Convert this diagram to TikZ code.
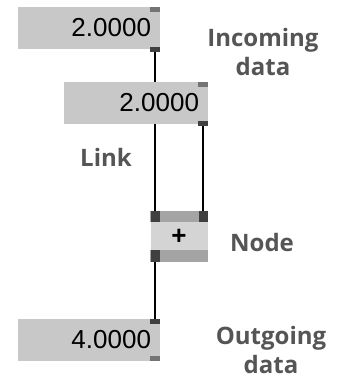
\documentclass[tikz,border=0pt]{standalone}
\usepackage{fontspec}
\setmainfont{Liberation Sans}
\newfontfamily\lblfont{Open Sans}
\usetikzlibrary{backgrounds}
\definecolor{boxgray}{HTML}{C8C8C8}
\definecolor{bandgray}{HTML}{A4A4A4}
\definecolor{pluslight}{HTML}{D4D4D4}
\definecolor{portgray}{HTML}{747474}
\definecolor{portdark}{HTML}{404040}
\definecolor{lblgray}{HTML}{555555}
\tikzset{
  numbox/.style={fill=boxgray, minimum height=42pt, inner xsep=9pt, inner ysep=0pt,
    align=right, font=\fontsize{26}{30}\selectfont},
  port/.style={fill=portgray, minimum width=10pt, minimum height=5pt, inner sep=0pt},
  portc/.style={port, fill=portdark},
  plusport/.style={fill=portdark, minimum width=9pt, minimum height=11pt, inner sep=0pt},
  link/.style={line width=2pt},
  lbl/.style={text=lblgray, align=center, font=\lblfont\bfseries\fontsize{24}{29}\selectfont}
}
\begin{document}
\begin{tikzpicture}[x=1pt, y=-1pt]
  \useasboundingbox (0,0) rectangle (340,378);

  % number boxes
  \node[numbox, minimum width=142pt, text width=124pt] (num1) at (89,28) {2.0000};
  \node[port, anchor=north east] (num1in) at (num1.north east) {};
  \node[portc, anchor=south east, yshift=-3pt] (num1out) at (num1.south east) {};

  \node[numbox, minimum width=144pt, text width=126pt] (num2) at (136,103) {2.0000};
  \node[port, anchor=north east] (num2in) at (num2.north east) {};
  \node[portc, anchor=south east, yshift=-2pt] (num2out) at (num2.south east) {};

  \node[numbox, minimum width=142pt, text width=124pt] (num3) at (89,340) {4.0000};
  \node[portc, anchor=north east] (num3in) at (num3.north east) {};
  \node[port, anchor=south east] (num3out) at (num3.south east) {};

  % the + object
  \node[fill=pluslight, minimum width=57pt, minimum height=51pt, inner sep=0pt,
    font=\bfseries\fontsize{26}{30}\selectfont] (add) at (179,236.5) {+};
  \fill[bandgray] (add.north west) rectangle ([yshift=-11pt]add.north east);
  \fill[bandgray] (add.south west) rectangle ([yshift=12pt]add.south east);
  \node[plusport, anchor=north west] (addinl) at (add.north west) {};
  \node[plusport, anchor=north east] (addinr) at (add.north east) {};
  \node[plusport, anchor=south west, minimum height=12pt] (addout) at (add.south west) {};

  % links
  \begin{pgfonlayer}{background}
    \draw[link] (num1out.center) -- (addinl.center);
    \draw[link] (num2out.center) -- (addinr.center);
    \draw[link] (addout.center) -- (num3in.center);
  \end{pgfonlayer}

  % labels
  \node[lbl] (lblin) at (263,52) {Incoming\\data};
  \node[lbl] (lbllink) at (106,157) {Link};
  \node[lbl] (lblnode) at (262,242) {Node};
  \node[lbl] (lblout) at (271,350) {Outgoing\\data};
\end{tikzpicture}
\end{document}
